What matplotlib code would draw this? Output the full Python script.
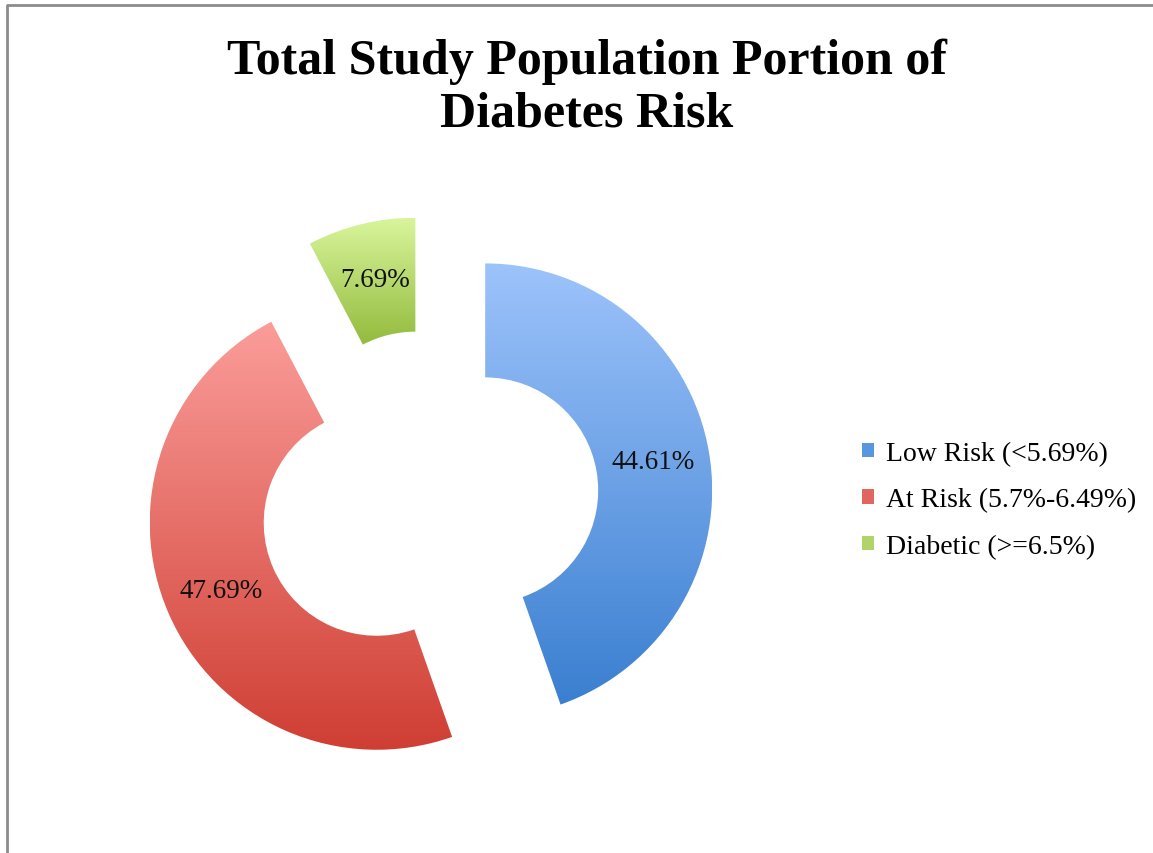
import numpy as np
import matplotlib.pyplot as plt
from matplotlib.patches import Patch
from matplotlib.lines import Line2D

TITLE = 'Total Study Population Portion of\nDiabetes Risk'
CATEGORIES = ['Low Risk (<5.69%)', 'At Risk (5.7%-6.49%)', 'Diabetic (>=6.5%)']
VALUES = [44.61, 47.69, 7.69]
# gradient colours, top -> bottom
TOP_COLORS = ['#9dc3fb', '#fb9d9a', '#d9f59c']
BOTTOM_COLORS = ['#3a7fd0', '#cf3e33', '#93bb3d']
LEGEND_COLORS = ['#5a95e0', '#e06660', '#b0d46a']

W, H = 1153, 854
CENTER = (429, H - 501)  # pixel data coords, y up
RADIUS = 227
RING = 114
EXPLODE = 57


def hex2rgb(h):
    h = h.lstrip('#')
    return np.array([int(h[i:i + 2], 16) / 255 for i in (0, 2, 4)])


def main():
    plt.rcParams['font.family'] = ['Liberation Serif', 'DejaVu Serif']
    fig = plt.figure(figsize=(W / 100, H / 100), dpi=100)
    ax = fig.add_axes([0, 0, 1, 1])

    wedges, texts, autotexts = ax.pie(
        VALUES, center=CENTER, radius=RADIUS, startangle=90, counterclock=False,
        explode=[EXPLODE] * len(VALUES), autopct='%.2f%%', pctdistance=0.75,
        wedgeprops=dict(width=RING, linewidth=0), textprops=dict(fontsize=19.5, color='#111111'))

    ax.set_xlim(0, W)
    ax.set_ylim(0, H)
    ax.set_aspect('equal')
    ax.axis('off')

    # vertical gradient fill clipped to each wedge
    fig.canvas.draw()
    for w, top, bot in zip(wedges, TOP_COLORS, BOTTOM_COLORS):
        w.set_facecolor('none')
        bb = w.get_path().get_extents(w.get_patch_transform())
        t = np.linspace(0, 1, 256)[:, None]
        grad = (1 - t) * hex2rgb(top) + t * hex2rgb(bot)
        img = ax.imshow(grad[:, None, :], extent=(bb.x0, bb.x1, bb.y0, bb.y1),
                        origin='upper', aspect='auto', zorder=w.get_zorder() - 0.1)
        img.set_clip_path(w)
    for at in autotexts:
        at.set_zorder(5)
    ax.set_xlim(0, W)
    ax.set_ylim(0, H)

    fig.text(587 / W, 1 - 88 / H, TITLE, ha='center', va='center', fontsize=36,
             fontweight='bold', linespacing=1.2)

    handles = [Patch(facecolor=c, edgecolor='none') for c in LEGEND_COLORS]
    fig.legend(handles, CATEGORIES, loc='center left', bbox_to_anchor=(862 / W, 1 - 501 / H),
               frameon=False, fontsize=20, handlelength=0.42, handleheight=0.42,
               handletextpad=0.45, labelspacing=0.78, borderpad=0, borderaxespad=0)

    # chart area border (top and left visible)
    fig.add_artist(Line2D([7 / W, 7 / W, 1], [0, 1 - 6 / H, 1 - 6 / H], color='#8c8c8c',
                          linewidth=2, transform=fig.transFigure))

    fig.savefig('out.png', dpi=100)


if __name__ == "__main__":
    main()
